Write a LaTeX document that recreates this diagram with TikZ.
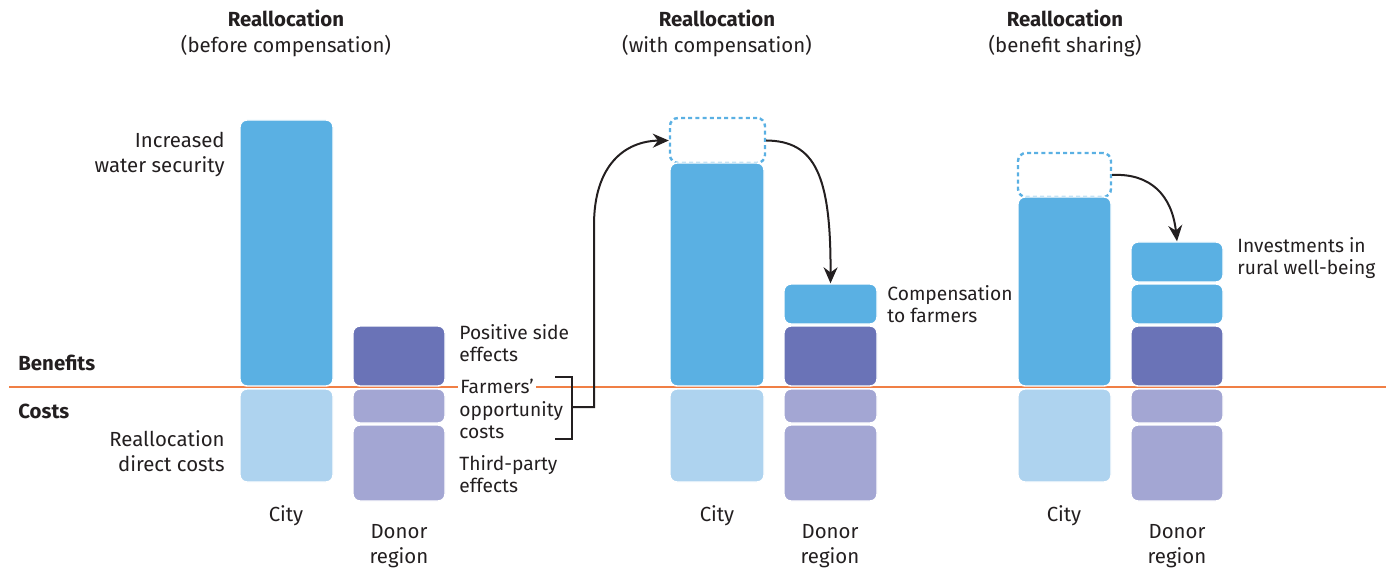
\documentclass[tikz,border=0pt]{standalone}
\usepackage{fontspec}
\setmainfont{Fira Sans}
\usetikzlibrary{fit,arrows.meta}
\definecolor{ink}{HTML}{231F20}
\definecolor{gain}{HTML}{5AB0E3}
\definecolor{gainlight}{HTML}{AED3EF}
\definecolor{sideplus}{HTML}{6A73B7}
\definecolor{sideminus}{HTML}{A3A6D3}
\definecolor{axisline}{HTML}{F07F45}
\tikzset{
  bar/.style={fit={#1}, inner sep=0pt, rounded corners=3.5pt, draw=white, line width=0.7pt},
  ghost/.style={fit={#1}, inner sep=0pt, rounded corners=4pt, draw=gain, line width=1.2pt, dash pattern=on 2pt off 1.6pt},
  title/.style={align=center, text=ink, font=\fontsize{10.2}{13}\selectfont},
  lbl/.style={text=ink, font=\fontsize{10.2}{12.5}\selectfont, inner sep=0pt},
  side/.style={text=ink, align=left, anchor=west, font=\fontsize{9.6}{11.2}\selectfont, inner sep=0pt},
  flow/.style={draw=ink, line width=1pt, -{Stealth[length=8pt,width=7pt]}},
  brace/.style={draw=ink, line width=1pt}
}
\begin{document}
\begin{tikzpicture}[x=0.5pt,y=-0.5pt]
\useasboundingbox (0,0) rectangle (1386,572);
% benefit / cost divider
\draw[axisline, line width=1.4pt] (9,387) -- (1386,387);
\node[lbl, anchor=west, font=\fontsize{10.2}{12.5}\selectfont\bfseries] (benefits) at (18,363) {Benefits};
\node[lbl, anchor=west, font=\fontsize{10.2}{12.5}\selectfont\bfseries] (costs) at (18,411) {Costs};

% ---- panel 1: before compensation
\node[title] (title1) at (286,33) {\textbf{Reallocation}\\(before compensation)};
\node[bar={(240,120) (333,386)}, fill=gain] (city1b) {};
\node[bar={(240,389) (333,482)}, fill=gainlight] (city1c) {};
\node[bar={(353,326) (445,386)}, fill=sideplus] (donor1p) {};
\node[bar={(353,389) (445,423)}, fill=sideminus] (donor1o) {};
\node[bar={(353,425) (445,501)}, fill=sideminus] (donor1t) {};
\node[lbl, anchor=east, align=right] (lblsec) at (225,155) {Increased\\water security};
\node[lbl, anchor=east, align=right] (lbldir) at (225,451) {Reallocation\\direct costs};
\node[lbl, anchor=north] (city1) at (286,505) {City};
\node[lbl, anchor=north, align=center] (donor1) at (399,524) {Donor\\region};
\node[side] (lblpos) at (459,343) {Positive side\\effects};
\node[side, fill=white, inner xsep=1pt] (lblfarm) at (458,386) {Farmers’};
\node[side] (lblopp) at (459,420) {opportunity\\costs};
\node[side] (lbltp) at (459,474) {Third-party\\effects};

% ---- panel 2: with compensation
\node[title] (title2) at (717,33) {\textbf{Reallocation}\\(with compensation)};
\node[ghost={(670,118) (765,163)}] (ghost2) {};
\node[bar={(670,163) (764,386)}, fill=gain] (city2b) {};
\node[bar={(670,389) (764,482)}, fill=gainlight] (city2c) {};
\node[bar={(784,284) (877,324)}, fill=gain] (donor2g) {};
\node[bar={(784,326) (877,386)}, fill=sideplus] (donor2p) {};
\node[bar={(784,389) (877,423)}, fill=sideminus] (donor2o) {};
\node[bar={(784,425) (877,501)}, fill=sideminus] (donor2t) {};
\node[lbl, anchor=north] (city2) at (717,505) {City};
\node[lbl, anchor=north, align=center] (donor2) at (830,524) {Donor\\region};
\node[side] (lblcomp) at (887,304) {Compensation\\to farmers};

% ---- panel 3: benefit sharing
\node[title] (title3) at (1065,33) {\textbf{Reallocation}\\(benefit sharing)};
\node[ghost={(1018,153) (1111,197)}] (ghost3) {};
\node[bar={(1018,197) (1111,386)}, fill=gain] (city3b) {};
\node[bar={(1018,389) (1111,482)}, fill=gainlight] (city3c) {};
\node[bar={(1131,242) (1223,282)}, fill=gain] (donor3g) {};
\node[bar={(1131,284) (1223,324)}, fill=gain] (donor3h) {};
\node[bar={(1131,326) (1223,386)}, fill=sideplus] (donor3p) {};
\node[bar={(1131,389) (1223,423)}, fill=sideminus] (donor3o) {};
\node[bar={(1131,425) (1223,501)}, fill=sideminus] (donor3t) {};
\node[lbl, anchor=north] (city3) at (1064,505) {City};
\node[lbl, anchor=north, align=center] (donor3) at (1177,524) {Donor\\region};
\node[side] (lblinv) at (1237,258) {Investments in\\rural well-being};

% bracket around the farmers' opportunity costs and transfers
\coordinate (brtop) at (555,377);
\coordinate (brbot) at (555,439);
\coordinate (brmid) at (572,407);
\draw[brace] (brtop) -- (572,377) -- (572,439) -- (brbot);
\draw[flow] (brmid) -- (594,407) -- (594,225) .. controls (594,165) and (625,141) .. (ghost2.west);
\draw[flow] (ghost2.east) .. controls (815,141) and (831,175) .. (donor2g.north);
\draw[flow] (ghost3.east) .. controls (1150,173) and (1172,195) .. (donor3g.north);
\end{tikzpicture}
\end{document}
